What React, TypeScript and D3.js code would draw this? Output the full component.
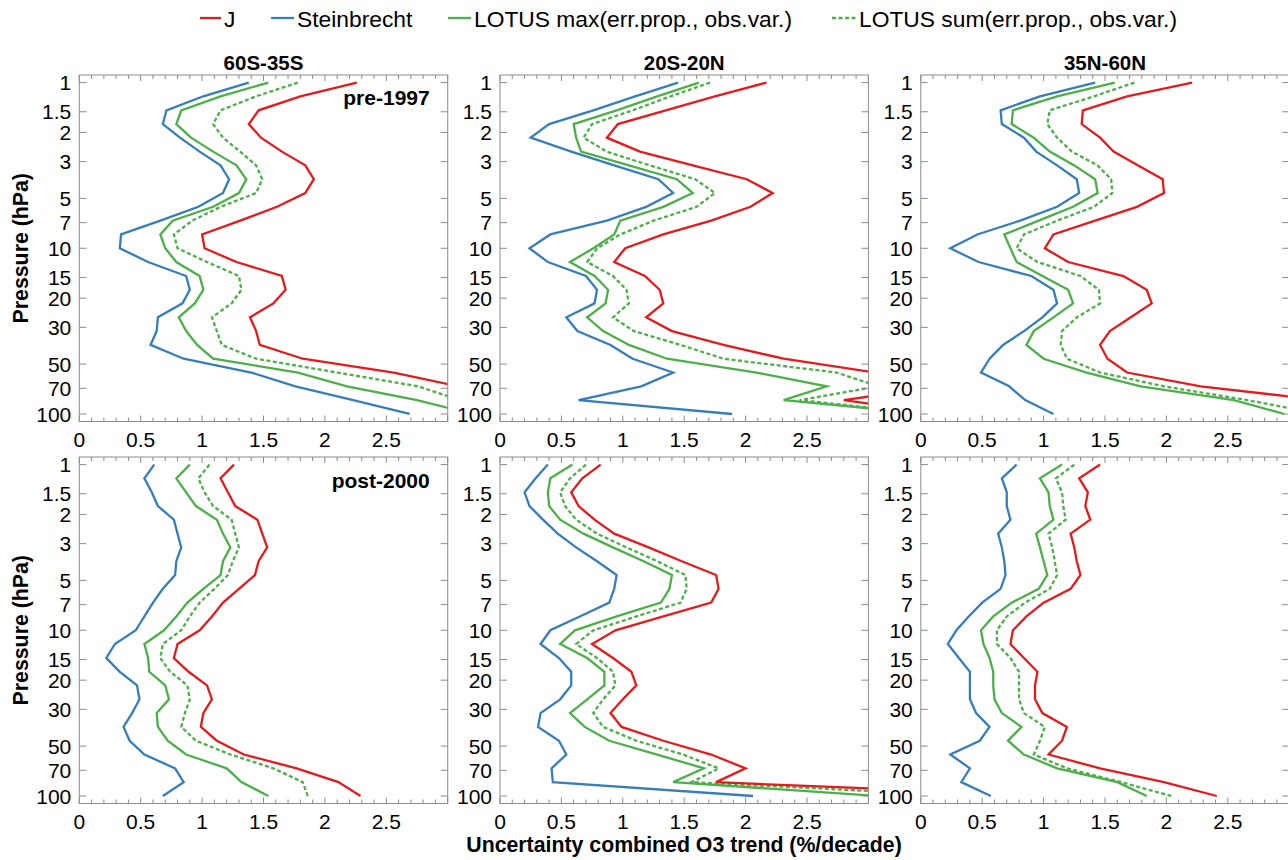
import React from 'react';
import * as d3 from 'd3';

// Pressure levels (hPa), 12 per decade
const levels = [1, 1.21, 1.47, 1.78, 2.15, 2.61, 3.16, 3.83, 4.64, 5.62, 6.81, 8.25, 10, 12.1, 14.7, 17.8, 21.5, 26.1, 31.6, 38.3, 46.4, 56.2, 68.1, 82.5, 100];

const regions = ['60S-35S', '20S-20N', '35N-60N'];
const periods = ['pre-1997', 'post-2000'];
const seriesNames = ['J', 'Steinbrecht', 'LOTUS max(err.prop., obs.var.)', 'LOTUS sum(err.prop., obs.var.)'];
const yTicks = [1, 1.5, 2, 3, 5, 7, 10, 15, 20, 30, 50, 70, 100];
const xTickLabels = [0, 0.5, 1, 1.5, 2, 2.5];

// pre-1997, 60S-35S
const pre_S_J = [2.26, 1.80, 1.46, 1.38, 1.48, 1.65, 1.84, 1.91, 1.84, 1.61, 1.31, 1.00, 1.02, 1.28, 1.65, 1.68, 1.58, 1.39, 1.44, 1.47, 1.82, 2.56, 3.09, 3.40, 3.60];
const pre_S_St = [1.38, 1.01, 0.71, 0.68, 0.82, 0.98, 1.15, 1.22, 1.17, 0.97, 0.66, 0.34, 0.33, 0.56, 0.87, 0.90, 0.84, 0.64, 0.63, 0.58, 0.85, 1.40, 1.76, 2.23, 2.69];
const pre_S_Max = [1.54, 1.15, 0.83, 0.79, 0.91, 1.09, 1.28, 1.36, 1.30, 1.09, 0.76, 0.66, 0.70, 0.79, 0.98, 1.01, 0.94, 0.81, 0.87, 0.96, 1.09, 1.78, 2.18, 2.75, 3.20];
const pre_S_Sum = [1.78, 1.44, 1.15, 1.09, 1.17, 1.31, 1.44, 1.49, 1.44, 1.15, 0.92, 0.77, 0.80, 1.04, 1.30, 1.32, 1.24, 1.08, 1.12, 1.16, 1.44, 2.10, 2.76, 3.10, 3.30];

// pre-1997, 20S-20N
const pre_T_J = [2.17, 1.75, 1.35, 0.96, 0.87, 1.14, 1.57, 2.01, 2.22, 2.04, 1.72, 1.33, 1.02, 0.93, 1.18, 1.30, 1.33, 1.19, 1.40, 1.82, 2.31, 3.05, 3.58, 2.80, 3.60];
const pre_T_St = [1.45, 1.10, 0.76, 0.40, 0.25, 0.58, 0.93, 1.29, 1.41, 1.19, 0.87, 0.41, 0.24, 0.39, 0.70, 0.79, 0.77, 0.54, 0.63, 0.90, 1.08, 1.41, 1.15, 0.64, 1.89];
const pre_T_Max = [1.62, 1.28, 0.95, 0.60, 0.62, 0.66, 1.05, 1.44, 1.57, 1.33, 0.98, 0.93, 0.76, 0.57, 0.77, 0.88, 0.86, 0.71, 0.84, 1.05, 1.36, 2.09, 2.66, 2.31, 3.50];
const pre_T_Sum = [1.71, 1.39, 1.08, 0.75, 0.68, 0.87, 1.22, 1.59, 1.75, 1.60, 1.25, 0.98, 0.79, 0.71, 0.92, 1.03, 1.05, 0.92, 1.09, 1.47, 1.82, 2.74, 3.08, 2.44, 3.50];

// pre-1997, 35N-60N
const pre_N_J = [2.21, 1.68, 1.32, 1.31, 1.46, 1.57, 1.77, 1.97, 1.98, 1.76, 1.42, 1.08, 1.01, 1.20, 1.65, 1.84, 1.88, 1.71, 1.54, 1.46, 1.52, 1.68, 2.28, 3.26, 3.50];
const pre_N_St = [1.42, 0.97, 0.65, 0.66, 0.84, 0.94, 1.11, 1.27, 1.29, 1.11, 0.81, 0.46, 0.24, 0.47, 0.90, 1.08, 1.11, 0.99, 0.84, 0.67, 0.56, 0.49, 0.72, 0.85, 1.08];
const pre_N_Max = [1.58, 1.11, 0.75, 0.74, 0.92, 1.05, 1.25, 1.42, 1.44, 1.24, 0.96, 0.68, 0.73, 0.78, 0.99, 1.20, 1.24, 1.08, 0.92, 0.86, 1.00, 1.35, 1.79, 2.55, 2.96];
const pre_N_Sum = [1.74, 1.41, 1.05, 1.03, 1.11, 1.23, 1.44, 1.55, 1.56, 1.41, 1.11, 0.84, 0.78, 0.95, 1.30, 1.45, 1.46, 1.27, 1.15, 1.14, 1.19, 1.46, 1.98, 2.66, 3.25];

// post-2000, 60S-35S
const post_S_J = [1.26, 1.15, 1.21, 1.27, 1.45, 1.49, 1.53, 1.46, 1.43, 1.30, 1.17, 1.08, 0.98, 0.80, 0.77, 0.89, 1.04, 1.08, 1.01, 0.99, 1.12, 1.34, 1.77, 2.11, 2.29];
const post_S_St = [0.61, 0.53, 0.59, 0.64, 0.77, 0.80, 0.83, 0.79, 0.78, 0.68, 0.60, 0.53, 0.46, 0.29, 0.22, 0.33, 0.47, 0.49, 0.43, 0.36, 0.41, 0.53, 0.78, 0.85, 0.68];
const post_S_Max = [0.90, 0.79, 0.87, 0.95, 1.12, 1.17, 1.23, 1.17, 1.15, 1.01, 0.88, 0.79, 0.69, 0.53, 0.56, 0.57, 0.70, 0.73, 0.63, 0.64, 0.72, 0.87, 1.20, 1.32, 1.54];
const post_S_Sum = [1.06, 0.97, 1.02, 1.09, 1.24, 1.27, 1.30, 1.25, 1.21, 1.10, 0.98, 0.90, 0.83, 0.68, 0.66, 0.74, 0.88, 0.90, 0.86, 0.83, 0.95, 1.23, 1.58, 1.82, 1.86];

// post-2000, 20S-20N
const post_T_J = [0.82, 0.67, 0.58, 0.64, 0.77, 0.93, 1.21, 1.48, 1.76, 1.78, 1.72, 1.33, 0.94, 0.75, 0.92, 1.07, 1.11, 1.00, 0.90, 0.99, 1.33, 1.72, 2.00, 1.76, 4.50];
const post_T_St = [0.39, 0.29, 0.20, 0.24, 0.35, 0.47, 0.62, 0.79, 0.95, 0.93, 0.89, 0.65, 0.41, 0.33, 0.48, 0.58, 0.58, 0.49, 0.33, 0.31, 0.48, 0.54, 0.42, 0.43, 2.06];
const post_T_Max = [0.59, 0.41, 0.39, 0.40, 0.49, 0.68, 0.92, 1.17, 1.40, 1.38, 1.31, 0.95, 0.61, 0.49, 0.71, 0.85, 0.85, 0.71, 0.57, 0.69, 0.89, 1.28, 1.66, 1.41, 3.09];
const post_T_Sum = [0.70, 0.57, 0.49, 0.53, 0.62, 0.79, 1.03, 1.28, 1.51, 1.52, 1.47, 1.11, 0.76, 0.62, 0.79, 0.92, 0.94, 0.84, 0.76, 0.84, 1.11, 1.49, 1.78, 1.56, 3.83];

// post-2000, 35N-60N
const post_N_J = [1.46, 1.29, 1.36, 1.34, 1.38, 1.22, 1.25, 1.27, 1.30, 1.22, 1.00, 0.86, 0.75, 0.73, 0.84, 0.95, 0.93, 0.93, 0.99, 1.19, 1.15, 1.04, 1.46, 1.98, 2.41];
const post_N_St = [0.78, 0.66, 0.70, 0.70, 0.73, 0.63, 0.66, 0.68, 0.69, 0.65, 0.50, 0.39, 0.29, 0.22, 0.31, 0.40, 0.40, 0.40, 0.45, 0.56, 0.48, 0.24, 0.40, 0.33, 0.57];
const post_N_Max = [1.15, 0.97, 1.04, 1.05, 1.08, 0.94, 0.97, 1.00, 1.03, 0.96, 0.74, 0.59, 0.49, 0.51, 0.56, 0.59, 0.59, 0.60, 0.66, 0.82, 0.71, 0.84, 1.11, 1.60, 1.84];
const post_N_Sum = [1.25, 1.10, 1.15, 1.16, 1.18, 1.04, 1.07, 1.09, 1.11, 1.05, 0.85, 0.70, 0.62, 0.62, 0.73, 0.80, 0.80, 0.80, 0.84, 1.01, 0.97, 0.92, 1.19, 1.63, 2.04];

const panelData = [
  [[pre_S_J, pre_S_St, pre_S_Max, pre_S_Sum], [pre_T_J, pre_T_St, pre_T_Max, pre_T_Sum], [pre_N_J, pre_N_St, pre_N_Max, pre_N_Sum]],
  [[post_S_J, post_S_St, post_S_Max, post_S_Sum], [post_T_J, post_T_St, post_T_Max, post_T_Sum], [post_N_J, post_N_St, post_N_Max, post_N_Sum]],
];

const COLORS = ['#e41a1c', '#377eb8', '#4daf4a', '#4daf4a'];
const DASH = [null, null, null, '4,2.5'];
const FONT = '"Liberation Sans", Arial, Helvetica, sans-serif';
const FRAME = '#8c8c8c';

const colX = [79.3, 500, 920.8];
const panelW = 368.4;
const rowY = [75, 457];
const panelH = 346.5;

function Panel({ row, col }: { row: number; col: number }) {
  const x0 = colX[col];
  const y0 = rowY[row];
  const x = d3.scaleLinear().domain([0, 3]).range([x0, x0 + panelW]);
  const y = d3.scaleLog().domain([0.9, 111]).range([y0, y0 + panelH]);
  const line = d3
    .line<number>()
    .x((d) => x(d))
    .y((_, i) => y(levels[i]));
  const clipId = `clip-${row}-${col}`;
  const minor = d3.range(0, 31).map((k) => k / 10);
  const series = panelData[row][col];
  const drawOrder = [1, 2, 3, 0];
  return (
    <g>
      <defs>
        <clipPath id={clipId}>
          <rect x={x0} y={y0} width={panelW} height={panelH} />
        </clipPath>
      </defs>
      <g clipPath={`url(#${clipId})`}>
        {drawOrder.map((s) => (
          <path
            key={s}
            d={line(series[s]) || ''}
            fill="none"
            stroke={COLORS[s]}
            strokeWidth={2.3}
            strokeDasharray={DASH[s] || undefined}
            strokeLinejoin="miter"
          />
        ))}
      </g>
      <rect x={x0} y={y0} width={panelW} height={panelH} fill="none" stroke={FRAME} strokeWidth={1} />
      {minor.map((v, k) => {
        const len = k % 5 === 0 ? 6 : 4;
        const xx = x(v);
        return (
          <g key={'xt' + k}>
            <line x1={xx} x2={xx} y1={y0 + panelH} y2={y0 + panelH - len} stroke={FRAME} strokeWidth={1} />
            <line x1={xx} x2={xx} y1={y0} y2={y0 + len} stroke={FRAME} strokeWidth={1} />
          </g>
        );
      })}
      {yTicks.map((t) => (
        <g key={'yt' + t}>
          <line x1={x0} x2={x0 + 7} y1={y(t)} y2={y(t)} stroke={FRAME} strokeWidth={1} />
          <line x1={x0 + panelW} x2={x0 + panelW - 7} y1={y(t)} y2={y(t)} stroke={FRAME} strokeWidth={1} />
          <text
            x={x0 - 8}
            y={y(t)}
            dy="0.36em"
            textAnchor="end"
            fontFamily={FONT}
            fontSize={21}
            fill="#000"
          >
            {t}
          </text>
        </g>
      ))}
      {xTickLabels.map((t) => (
        <text
          key={'xl' + t}
          x={x(t)}
          y={y0 + panelH + 25}
          textAnchor="middle"
          fontFamily={FONT}
          fontSize={21}
          fill="#000"
        >
          {t}
        </text>
      ))}
      {row === 0 && (
        <text x={x0 + panelW / 2} y={y0 - 5} textAnchor="middle" fontFamily={FONT} fontWeight="bold" fontSize={20.5} fill="#000">
          {regions[col]}
        </text>
      )}
      {col === 0 && (
        <text x={x0 + panelW - 18} y={y0 + (row === 0 ? 30 : 31)} textAnchor="end" fontFamily={FONT} fontWeight="bold" fontSize={21} fill="#000">
          {periods[row]}
        </text>
      )}
    </g>
  );
}

function Legend() {
  const items = [
    { x1: 200, x2: 221, tx: 224 },
    { x1: 271, x2: 294, tx: 297 },
    { x1: 448, x2: 471, tx: 474 },
    { x1: 832, x2: 856, tx: 859 },
  ];
  return (
    <g>
      {items.map((it, i) => (
        <g key={i}>
          <line x1={it.x1} x2={it.x2} y1={18} y2={18} stroke={COLORS[i]} strokeWidth={2.3} strokeDasharray={DASH[i] || undefined} />
          <text x={it.tx} y={27} fontFamily={FONT} fontSize={22.8} fill="#000">
            {seriesNames[i]}
          </text>
        </g>
      ))}
    </g>
  );
}

export default function App() {
  const rows = [0, 1];
  const cols = [0, 1, 2];
  return (
    <svg
      width={1288}
      height={860}
      viewBox="0 0 1288 860"
      style={{ position: 'absolute', left: 0, top: 0, background: '#fff' }}
    >
      <rect x={0} y={0} width={1288} height={860} fill="#fff" />
      <Legend />
      {rows.map((r) => cols.map((c) => <Panel key={`${r}-${c}`} row={r} col={c} />))}
      {rows.map((r) => (
        <text
          key={'yl' + r}
          transform={`translate(28,${rowY[r] + panelH / 2}) rotate(-90)`}
          textAnchor="middle"
          fontFamily={FONT}
          fontWeight="bold"
          fontSize={21.3}
          fill="#000"
        >
          Pressure (hPa)
        </text>
      ))}
      <text x={684} y={852} textAnchor="middle" fontFamily={FONT} fontWeight="bold" fontSize={21.3} fill="#000">
        Uncertainty combined O3 trend (%/decade)
      </text>
    </svg>
  );
}
